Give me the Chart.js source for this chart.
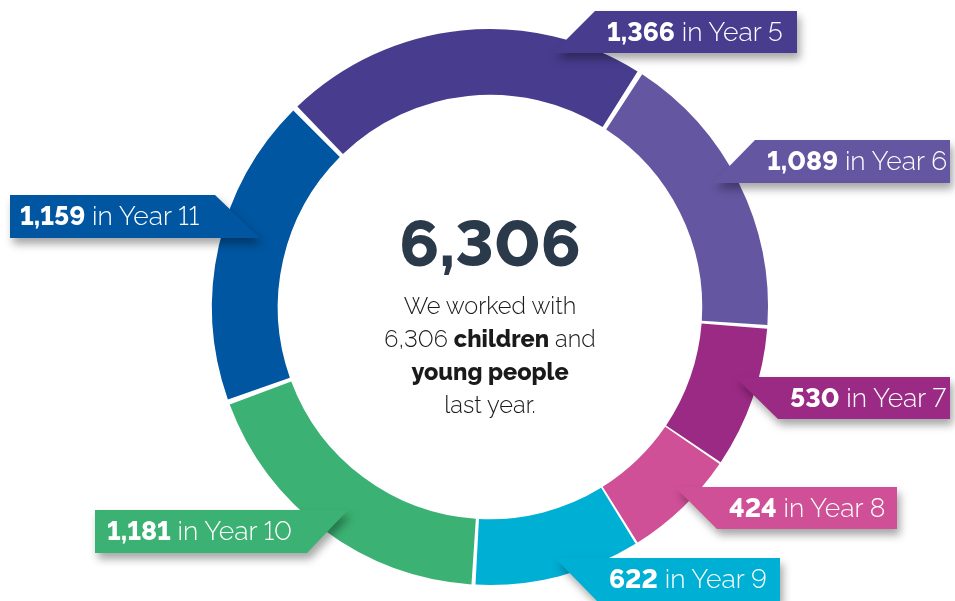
<!DOCTYPE html>
<html>
<head>
<meta charset="utf-8">
<script src="https://cdn.jsdelivr.net/npm/chart.js@4.4.0/dist/chart.umd.min.js"></script>
<style>
  html, body { margin: 0; padding: 0; background: #ffffff; }
  #wrap { position: relative; width: 955px; height: 601px; overflow: hidden; font-family: Raleway, Lato, "Open Sans", sans-serif; font-variant-numeric: lining-nums; font-feature-settings: "lnum" 1; }
  #chart { position: absolute; left: 0; top: 0; }
  #center { position: absolute; left: 330px; top: 202px; width: 320px; text-align: center; color: #1a1a1a; }
  #center .big { font-size: 66px; font-weight: 800; color: #2b3a4b; line-height: 82px; letter-spacing: 0px; }
  #center .txt { font-size: 23.5px; font-weight: 300; line-height: 33px; margin-top: 5px; }
  #center b { font-weight: 800; }
  .flagwrap { position: absolute; left: 0; top: 0; width: 955px; height: 601px; filter: drop-shadow(3px 6px 4px rgba(0,0,0,0.35)); pointer-events: none; }
  .flag { position: absolute; left: 0; top: 0; width: 955px; height: 601px; }
  .flagtext { position: absolute; color: #ffffff; font-size: 26.5px; font-weight: 300; white-space: nowrap; line-height: 42px; height: 42px; }
  .flagtext b { font-weight: 800; }
</style>
</head>
<body>
<div id="wrap">
  <canvas id="chart" width="955" height="601"></canvas>
  <div id="center">
    <div class="big" id="totalBig"></div>
    <div class="txt">We worked with<br><span id="totalSmall"></span> <b>children</b> and<br><b>young people</b><br>last year.</div>
  </div>
  <div id="flags"></div>
</div>
<script>
// ---- data ----
const categories = ["Year 5", "Year 6", "Year 7", "Year 8", "Year 9", "Year 10", "Year 11"];
const values = [1366, 1089, 530, 424, 622, 1181, 1159];
const colors = ["#483c8e", "#6556a2", "#9b2a85", "#cf5097", "#00afd4", "#3bb273", "#0056a1"];
const reportedTotal = 6306;

// ---- flag layout (polygon points and text start), per category ----
const flagLayout = [
  { pts: [[595,11],[797,11],[797,53],[553,53]], tx: 607, ty: 11 },
  { pts: [[755,140],[950,140],[950,183],[713,183]], tx: 767, ty: 140 },
  { pts: [[735,377],[950,377],[950,419],[778,419]], tx: 790, ty: 377 },
  { pts: [[675,487],[897,487],[897,529],[717,529]], tx: 729, ty: 487 },
  { pts: [[555,558],[780,558],[780,601],[597,601]], tx: 609, ty: 558 },
  { pts: [[95,510],[348,510],[307,553],[95,553]], tx: 107, ty: 510 },
  { pts: [[10,195],[215,195],[260,238],[10,238]], tx: 20, ty: 195 }
];

const fmt = n => n.toLocaleString('en-US');
document.getElementById('totalBig').textContent = fmt(reportedTotal);
document.getElementById('totalSmall').textContent = fmt(reportedTotal);

const flags = document.getElementById('flags');
categories.forEach((cat, i) => {
  const L = flagLayout[i];
  const w = document.createElement('div');
  w.className = 'flagwrap';
  const f = document.createElement('div');
  f.className = 'flag';
  f.style.background = colors[i];
  f.style.clipPath = 'polygon(' + L.pts.map(p => p[0] + 'px ' + p[1] + 'px').join(',') + ')';
  w.appendChild(f);
  flags.appendChild(w);
  const t = document.createElement('div');
  t.className = 'flagtext';
  t.style.left = L.tx + 'px';
  t.style.top = L.ty + 'px';
  t.innerHTML = '<b>' + fmt(values[i]) + '</b> in ' + cat;
  flags.appendChild(t);
});

new Chart(document.getElementById('chart'), {
  type: 'doughnut',
  data: {
    labels: categories,
    datasets: [{
      data: values,
      backgroundColor: colors,
      borderWidth: 0,
      spacing: 8
    }]
  },
  options: {
    responsive: false,
    animation: false,
    rotation: -44.5,
    cutout: '76%',
    layout: { padding: { top: 29, left: 212, right: 187, bottom: 16 } },
    plugins: { legend: { display: false }, tooltip: { enabled: false } }
  }
});
</script>
</body>
</html>
